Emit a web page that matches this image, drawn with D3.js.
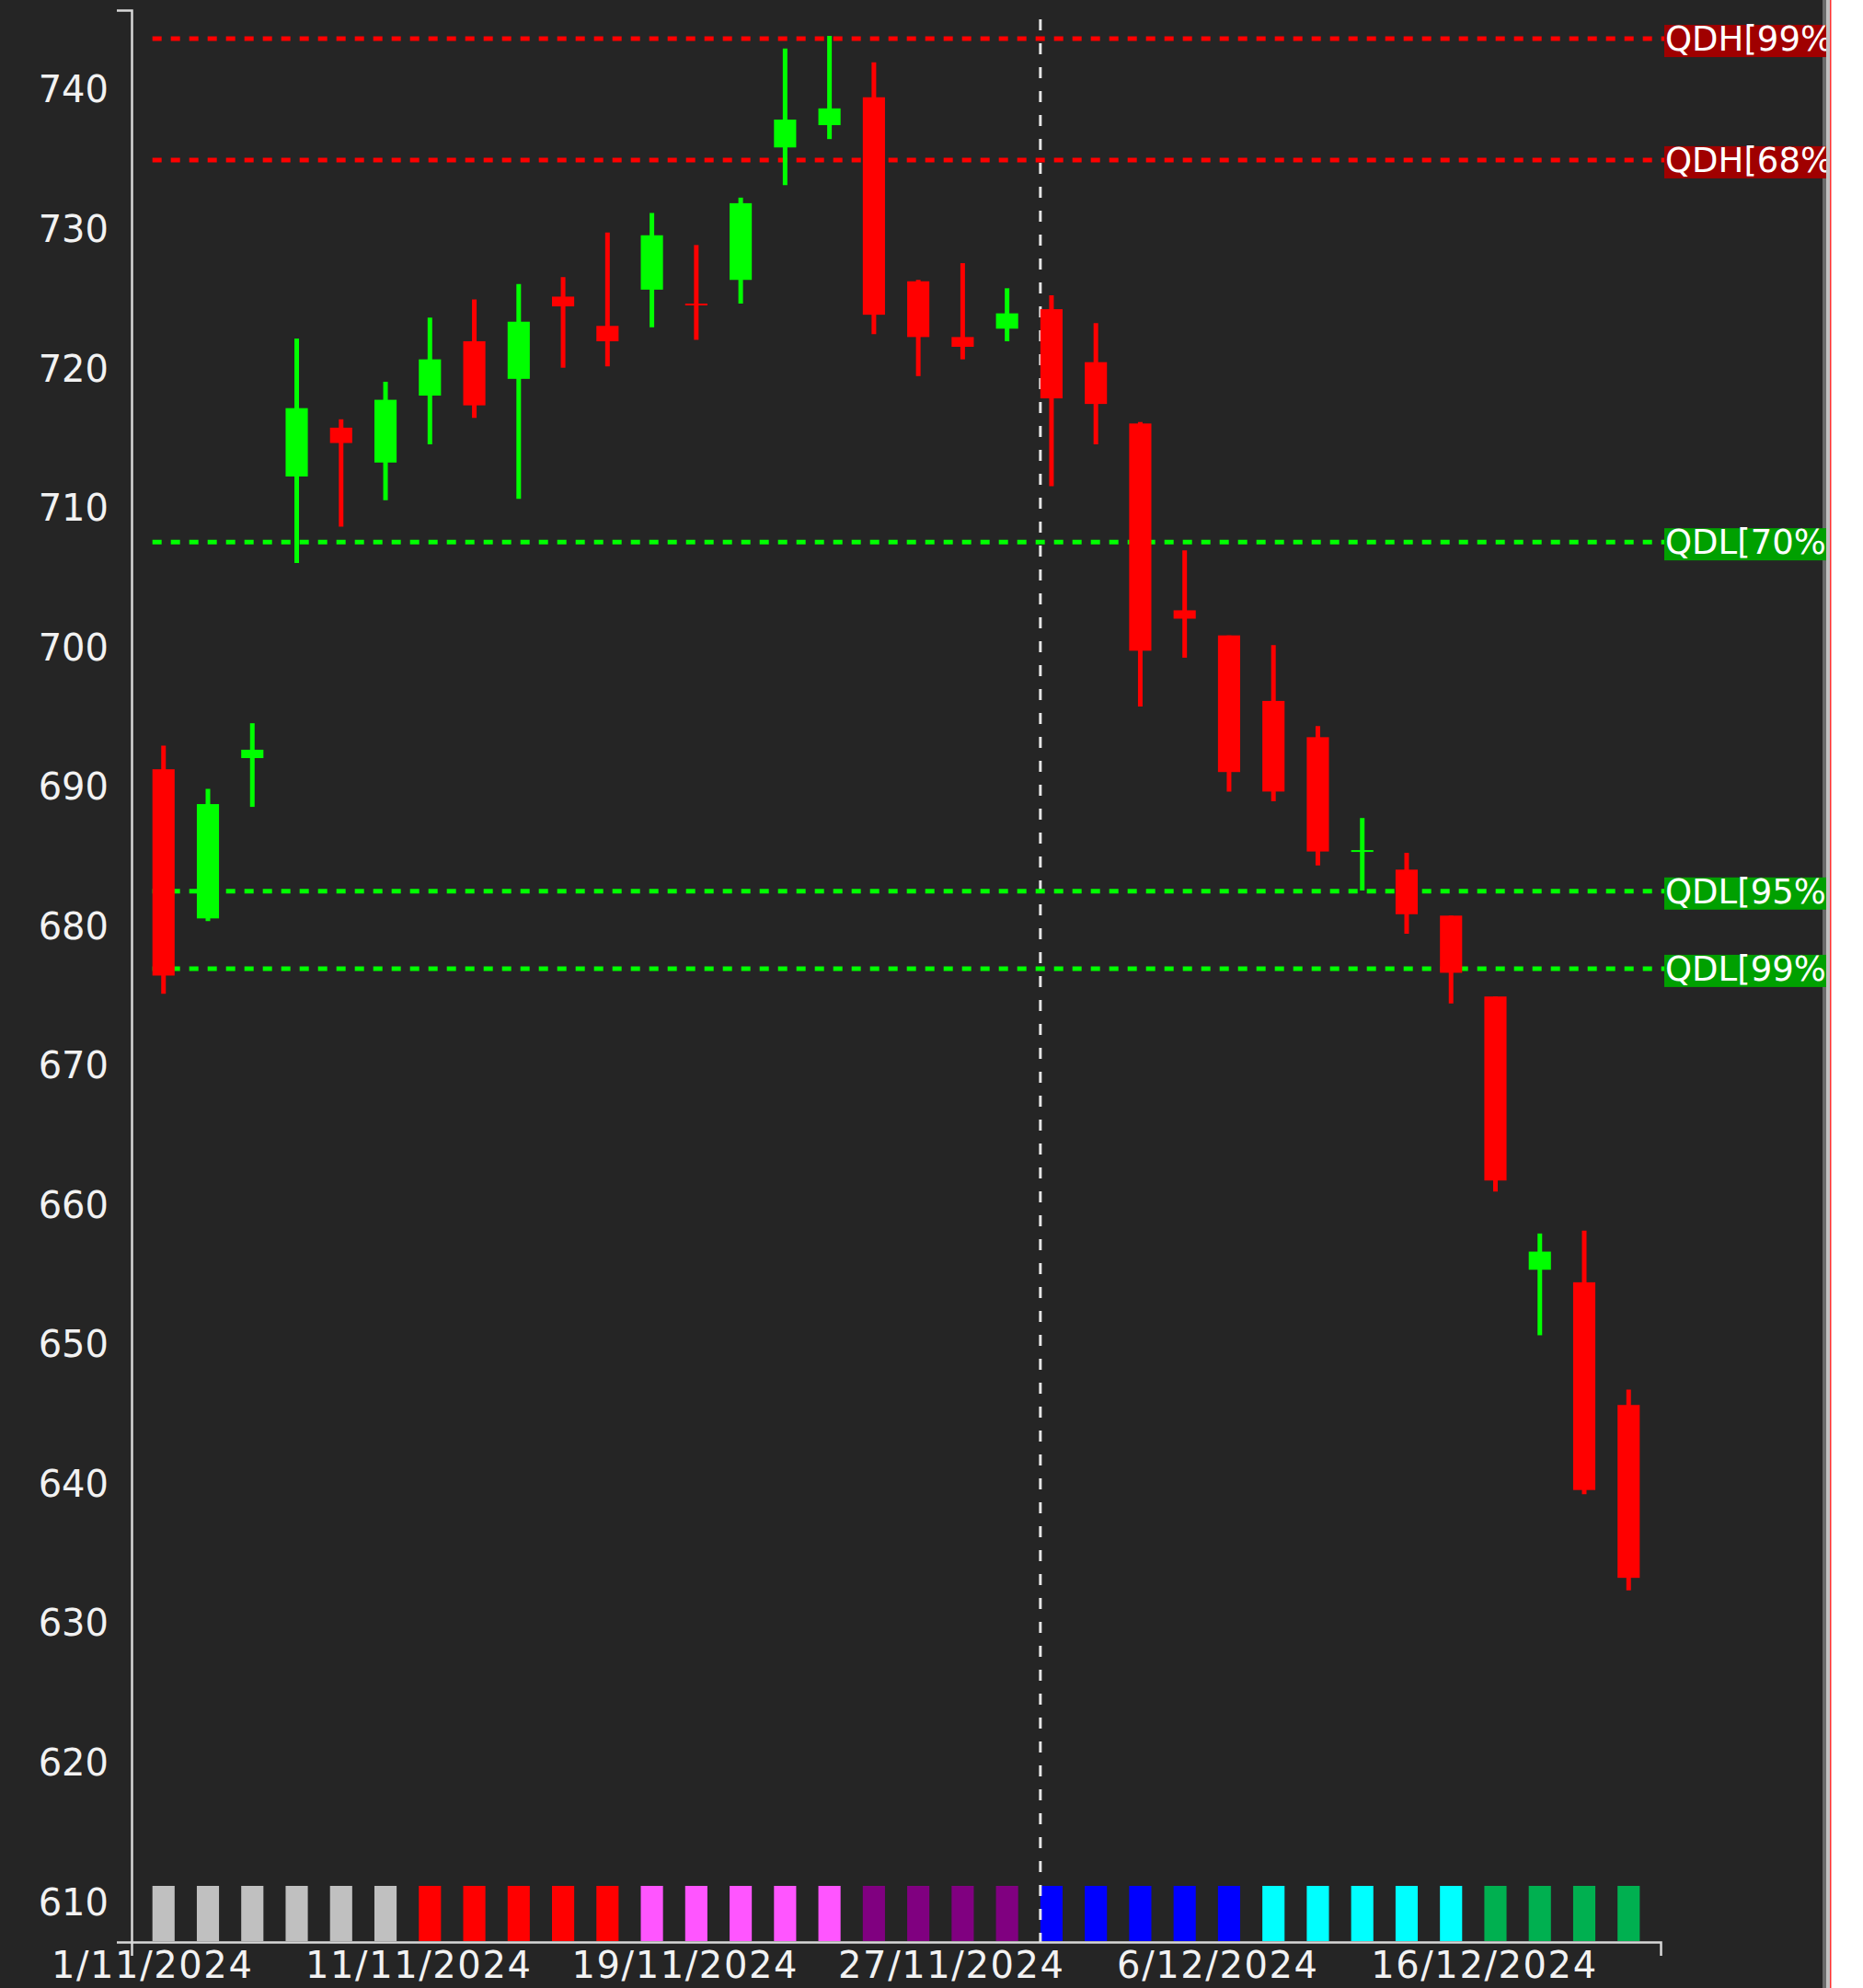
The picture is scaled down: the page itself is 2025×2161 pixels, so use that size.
<!DOCTYPE html>
<html>
<head>
<meta charset="utf-8">
<script src="https://cdn.jsdelivr.net/npm/d3@7"></script>
<style>
  body { margin: 0; background: #ffffff; }
  text { font-family: "DejaVu Sans", Verdana, sans-serif; }
</style>
</head>
<body>
<div id="chart"></div>
<script>
// trading days (28/11 missing, market closed)
const dates = ['1/11/2024','4/11/2024','5/11/2024','6/11/2024','7/11/2024','8/11/2024',
  '11/11/2024','12/11/2024','13/11/2024','14/11/2024','15/11/2024',
  '18/11/2024','19/11/2024','20/11/2024','21/11/2024','22/11/2024',
  '25/11/2024','26/11/2024','27/11/2024','29/11/2024',
  '2/12/2024','3/12/2024','4/12/2024','5/12/2024','6/12/2024',
  '9/12/2024','10/12/2024','11/12/2024','12/12/2024','13/12/2024',
  '16/12/2024','17/12/2024','18/12/2024','19/12/2024'];

const open  = [691.3,680.6,692.1,712.3,715.8,713.3,718.1,722.0,719.3,725.2,723.1,725.7,724.7,726.4,735.9,737.5,739.5,
               726.3,722.3,722.9,724.3,720.5,716.1,702.7,700.9,696.2,693.6,685.45,684.1,680.8,675.0,655.4,654.5,645.7];
const high  = [693.0,689.9,694.6,722.2,716.4,719.1,723.7,725.0,726.1,726.6,729.8,731.2,728.9,732.3,743.0,743.9,742.0,
               726.4,727.6,725.8,725.3,723.3,716.2,707.0,700.9,700.2,694.4,687.8,685.3,680.8,675.0,658.0,658.2,646.8];
const low   = [675.2,680.4,688.6,706.1,708.7,710.6,714.6,716.5,710.7,720.1,720.2,723.0,722.1,724.7,733.2,736.5,722.5,
               719.5,720.7,722.0,711.6,714.6,695.8,699.3,689.7,689.0,684.4,682.6,679.5,674.5,661.0,650.7,639.3,632.4];
const close = [676.5,688.8,692.7,717.2,714.7,717.8,720.7,717.4,723.4,724.5,722.0,729.6,724.65,731.9,737.9,738.7,723.9,
               722.3,721.6,724.0,717.9,717.5,699.8,702.1,691.1,689.7,685.4,685.5,680.9,676.7,661.8,656.7,639.6,633.3];

// period markers along the bottom
const markerColors = [
  '#c0c0c0','#c0c0c0','#c0c0c0','#c0c0c0','#c0c0c0','#c0c0c0',
  '#ff0000','#ff0000','#ff0000','#ff0000','#ff0000',
  '#ff55ff','#ff55ff','#ff55ff','#ff55ff','#ff55ff',
  '#800080','#800080','#800080','#800080',
  '#0000ff','#0000ff','#0000ff','#0000ff','#0000ff',
  '#00ffff','#00ffff','#00ffff','#00ffff','#00ffff',
  '#00b050','#00b050','#00b050','#00b050'];

const xTicks = ['1/11/2024','11/11/2024','19/11/2024','27/11/2024','6/12/2024','16/12/2024'];
const yTicks = d3.range(610, 741, 10);
const splitDate = '2/12/2024';

// quantile levels
const levelValues = [743.7, 735.0, 707.6, 682.55, 677.0];
const levelLabels = ['QDH[99%','QDH[68%','QDL[70%','QDL[95%','QDL[99%'];

const W = 2025, H = 2161,
      m = { left: 143, right: 1805, top: 11, bottom: 2111 },
      panelRight = 1985;

var svg = d3.select('#chart')
    .append('svg')
    .attr('width', W)
    .attr('height', H);

svg.append('rect').attr('width', panelRight).attr('height', H).attr('fill', '#252525');
svg.append('rect').attr('x', panelRight - 4).attr('width', 4).attr('height', H).attr('fill', '#6a6a6a');

// scales
var x = d3.scaleBand()
    .domain(dates)
    .range([m.left, m.right])
    .paddingInner(0.5)
    .paddingOuter(0.47);

var y = d3.scaleLinear()
    .domain([607.18, 745.75])
    .range([m.bottom, m.top]);

var bw = x.bandwidth();

// axes
var yAxis = d3.axisLeft(y).tickValues(yTicks).tickSizeInner(0).tickSizeOuter(16).tickPadding(25);
var xAxis = d3.axisBottom(x).tickValues(xTicks).tickSizeInner(0).tickSizeOuter(15).tickPadding(11);

var gy = svg.append('g').attr('transform', `translate(${m.left},0)`).call(yAxis);
var gx = svg.append('g').attr('transform', `translate(0,${m.bottom})`).call(xAxis);

[gy, gx].forEach(g => {
  g.select('.domain').attr('stroke', '#d8d8d8').attr('stroke-width', 2.5);
  g.selectAll('text').attr('fill', '#f2f2f2').style('font-size', '40px');
});
// dates sit on the band start, slightly wider set
gx.selectAll('.tick text').attr('dx', -bw / 2).style('letter-spacing', '1.6px');

// bottom period markers
svg.append('g').selectAll('rect')
    .data(dates)
    .enter()
    .append('rect')
    .attr('x', d => x(d))
    .attr('y', m.bottom - 61)
    .attr('width', bw)
    .attr('height', 60)
    .attr('fill', (d, i) => markerColors[i]);

// month split line
svg.append('line')
    .attr('x1', x(splitDate)).attr('x2', x(splitDate))
    .attr('y1', m.top + 10).attr('y2', m.bottom)
    .attr('stroke', '#e6e6e6')
    .attr('stroke-width', 3)
    .attr('stroke-dasharray', '12,14');

// levels
var labelX = m.right + 4;
svg.append('clipPath').attr('id', 'panel')
    .append('rect').attr('width', panelRight).attr('height', H);

var lv = svg.append('g').attr('clip-path', 'url(#panel)')
    .selectAll('g')
    .data(levelValues)
    .enter()
    .append('g');

lv.append('line')
    .attr('x1', x(dates[0]))
    .attr('x2', labelX)
    .attr('y1', d => y(d)).attr('y2', d => y(d))
    .attr('stroke', (d, i) => levelLabels[i].startsWith('QDH') ? '#ff0000' : '#00ff00')
    .attr('stroke-width', 5)
    .attr('stroke-dasharray', '10,10');

lv.append('rect')
    .attr('x', labelX)
    .attr('y', d => y(d) - 15)
    .attr('width', 200)
    .attr('height', 35)
    .attr('fill', (d, i) => levelLabels[i].startsWith('QDH') ? '#a00000' : '#00a000');

lv.append('text')
    .attr('x', labelX + 1)
    .attr('y', d => y(d) + 13)
    .attr('fill', '#ffffff')
    .style('font-size', '37px')
    .text((d, i) => levelLabels[i]);

// candles
var candle = svg.append('g').selectAll('g')
    .data(dates)
    .enter()
    .append('g');

const colorOf = i => close[i] >= open[i] ? '#00ff00' : '#ff0000';

candle.append('line')
    .attr('x1', d => x(d) + bw / 2).attr('x2', d => x(d) + bw / 2)
    .attr('y1', (d, i) => y(high[i]))
    .attr('y2', (d, i) => y(low[i]))
    .attr('stroke', (d, i) => colorOf(i))
    .attr('stroke-width', 5);

candle.append('rect')
    .attr('x', d => x(d))
    .attr('width', bw)
    .attr('y', (d, i) => y(Math.max(open[i], close[i])))
    .attr('height', (d, i) => Math.max(2, Math.abs(y(open[i]) - y(close[i]))))
    .attr('fill', (d, i) => colorOf(i));

// right edge of the panel
svg.append('rect').attr('x', panelRight).attr('width', 4).attr('height', H).attr('fill', '#c0c0c0');
svg.append('rect').attr('x', panelRight + 4).attr('width', 1.5).attr('height', H).attr('fill', '#ff3030');
</script>
</body>
</html>
